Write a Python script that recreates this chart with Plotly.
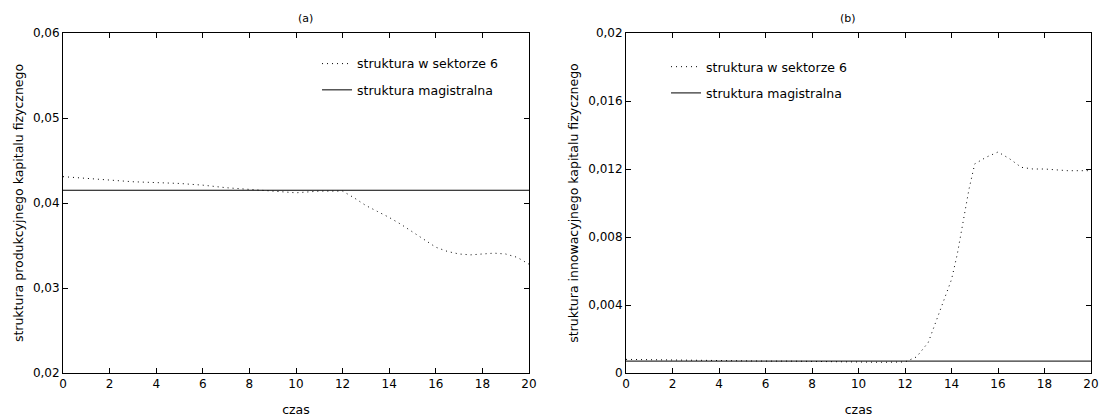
import plotly.graph_objects as go

# (a) production physical capital structure in sector 6
t_a = [0, 1, 2, 3, 4, 5, 6, 7, 8, 9, 10, 11, 12, 12.5, 13, 13.5, 14, 14.5, 15, 15.5,
       16, 16.5, 17, 17.5, 18, 18.5, 19, 19.5, 20]
sektor_a = [0.0431, 0.0429, 0.0427, 0.0425, 0.0424, 0.0423, 0.0421, 0.0418, 0.0416,
            0.0414, 0.0412, 0.0414, 0.0414, 0.0406, 0.0397, 0.0390, 0.0383, 0.0375,
            0.0366, 0.0357, 0.0348, 0.0343, 0.0340, 0.0339, 0.0340, 0.0341, 0.0340,
            0.0336, 0.0328]
magistrala_a = 0.0415

# (b) innovation physical capital structure in sector 6
t_b = [0, 1, 2, 3, 4, 5, 6, 7, 8, 9, 10, 11, 12, 12.5, 13, 13.25, 13.5, 13.75, 14,
       14.25, 14.5, 14.75, 15, 15.5, 16, 16.5, 17, 17.5, 18, 19, 20]
sektor_b = [0.0008, 0.00078, 0.00075, 0.00075, 0.00075, 0.00072, 0.0007, 0.0007,
            0.00068, 0.00066, 0.00063, 0.00063, 0.00065, 0.00095, 0.0018, 0.0027,
            0.0036, 0.0045, 0.0055, 0.0070, 0.0090, 0.0108, 0.0123, 0.0127, 0.0130,
            0.0126, 0.0121, 0.0120, 0.0120, 0.0119, 0.0119]
magistrala_b = 0.0007

x_ticks = [0, 2, 4, 6, 8, 10, 12, 14, 16, 18, 20]
y_ticks_a = [0.02, 0.03, 0.04, 0.05, 0.06]
y_ticks_b = [0, 0.004, 0.008, 0.012, 0.016, 0.02]

FONT = "DejaVu Sans"
TXT = 12.5
dotted = dict(color="black", width=1, dash="1px,4px")
solid = dict(color="black", width=1)

fig = go.Figure()
fig.add_trace(go.Scatter(x=t_a, y=sektor_a, mode="lines", line=dotted,
                         name="struktura w sektorze 6", legendgroup="a1",
                         xaxis="x", yaxis="y", legend="legend"))
fig.add_trace(go.Scatter(x=[0, 20], y=[magistrala_a, magistrala_a], mode="lines", line=solid,
                         name="struktura magistralna", legendgroup="a2",
                         xaxis="x", yaxis="y", legend="legend"))
fig.add_trace(go.Scatter(x=t_b, y=sektor_b, mode="lines", line=dotted,
                         name="struktura w sektorze 6", legendgroup="b1",
                         xaxis="x2", yaxis="y2", legend="legend2"))
fig.add_trace(go.Scatter(x=[0, 20], y=[magistrala_b, magistrala_b], mode="lines", line=solid,
                         name="struktura magistralna", legendgroup="b2",
                         xaxis="x2", yaxis="y2", legend="legend2"))

axis_common = dict(showline=True, linecolor="black", linewidth=1, mirror="ticks",
                   ticks="inside", ticklen=5, tickcolor="black", showgrid=False,
                   zeroline=False, automargin=False,
                   tickfont=dict(family=FONT, size=12, color="black"))

fig.update_layout(
    width=1105, height=417,
    margin=dict(l=63, r=14, t=33, b=44),
    paper_bgcolor="white", plot_bgcolor="white",
    separators=", ",
    font=dict(family=FONT, size=TXT, color="black"),
    xaxis=dict(domain=[0, 0.4533], range=[0, 20], tickvals=x_ticks, anchor="y",
               title=dict(text="czas", standoff=15, font=dict(size=TXT)), **axis_common),
    yaxis=dict(domain=[0, 1], range=[0.02, 0.06], tickvals=y_ticks_a, tickformat=".2~f",
               anchor="x",
               title=dict(text="struktura produkcyjnego kapitalu fizycznego", standoff=6,
                          font=dict(size=TXT)), **axis_common),
    xaxis2=dict(domain=[0.5477, 1.0], range=[0, 20], tickvals=x_ticks, anchor="y2",
                title=dict(text="czas", standoff=15, font=dict(size=TXT)), **axis_common),
    yaxis2=dict(domain=[0, 1], range=[0, 0.02], tickvals=y_ticks_b, tickformat=".3~f",
                anchor="x2",
                title=dict(text="struktura innowacyjnego kapitalu fizycznego", standoff=6,
                           font=dict(size=TXT)), **axis_common),
    legend=dict(x=0.2471, y=0.953, xanchor="left", yanchor="top", bgcolor="rgba(0,0,0,0)",
                font=dict(family=FONT, size=TXT), tracegroupgap=7),
    legend2=dict(x=0.5866, y=0.944, xanchor="left", yanchor="top", bgcolor="rgba(0,0,0,0)",
                 font=dict(family=FONT, size=TXT), tracegroupgap=7),
    annotations=[
        dict(text="(a)", x=0.2266, y=1.0, xref="paper", yref="paper", yshift=15,
             yanchor="middle", showarrow=False, font=dict(family=FONT, size=11)),
        dict(text="(b)", x=0.7738, y=1.0, xref="paper", yref="paper", yshift=15,
             yanchor="middle", showarrow=False, font=dict(family=FONT, size=11)),
    ],
    showlegend=True,
)

fig.write_html("out.html")
